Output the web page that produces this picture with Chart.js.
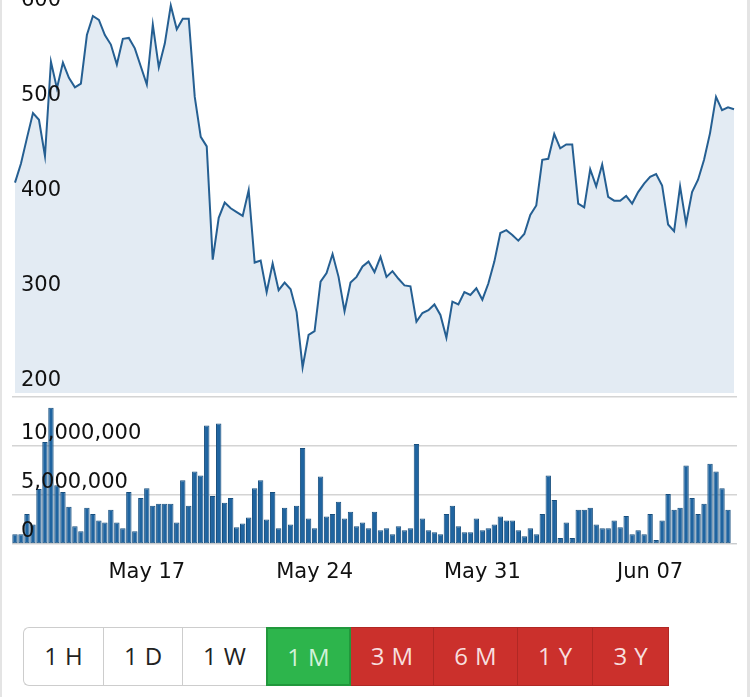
<!DOCTYPE html>
<html>
<head>
<meta charset="utf-8">
<script src="https://cdn.jsdelivr.net/npm/chart.js@4.4.1/dist/chart.umd.min.js"></script>
<style>
  body { margin: 0; width: 750px; height: 697px; background: #fff; overflow: hidden; position: relative; }
  .edge { position: absolute; top: 0; height: 697px; background: #e4e4e4; }
  #priceBox { position: absolute; left: 0; top: 0; width: 750px; height: 395px; }
  #volumeBox { position: absolute; left: 0; top: 395px; width: 750px; height: 190px; }
  .ranges { position: absolute; left: 23px; top: 627px; height: 59px; display: flex; font-family: "Open Sans", sans-serif; font-size: 24px; }
  .ranges div { box-sizing: border-box; height: 59px; line-height: 55px; text-align: center; letter-spacing: 7px; text-indent: 7px; }
  .ranges .w { background: #fff; color: #222; border: 1.5px solid #cdcdcd; border-right: none; }
  .ranges .w:first-child { border-radius: 6px 0 0 6px; }
  .ranges .g { background: #2db54c; color: #d2f2d9; border: 2px solid #21983c; }
  .ranges .r { background: #cb302c; color: #f7dede; border: 1px solid #b02824; border-left: none; }
</style>
</head>
<body>
<div class="edge" style="left:0;width:2px"></div>
<div class="edge" style="left:747px;width:3px"></div>
<div id="priceBox"><canvas id="prix"></canvas></div>
<div id="volumeBox"><canvas id="volume"></canvas></div>
<div class="ranges">
  <div class="w" style="width:80px">1H</div>
  <div class="w" style="width:79px">1D</div>
  <div class="w" style="width:84px">1W</div>
  <div class="g" style="width:85px">1M</div>
  <div class="r" style="width:83px">3M</div>
  <div class="r" style="width:84px">6M</div>
  <div class="r" style="width:75px">1Y</div>
  <div class="r" style="width:76px">3Y</div>
</div>
<script>
// donnees (un point toutes les 6 heures)
const prices = [421, 441, 468, 494, 487, 449, 548, 520, 547, 531, 521, 525, 576, 596, 592, 576,
  566, 545, 572, 573, 562, 543, 524, 587, 542, 567, 607, 582, 593, 593, 511, 469,
  459, 340, 384, 400, 394, 390, 386, 413, 337, 339, 306, 336, 308, 316, 309, 285,
  227, 261, 265, 317, 326, 346, 322, 286, 316, 322, 333, 338, 327, 343, 322, 328,
  320, 313, 312, 275, 284, 287, 293, 282, 258, 296, 293, 306, 303, 310, 298, 315,
  338, 368, 371, 366, 360, 367, 387, 397, 445, 446, 472, 457, 461, 461, 399, 395,
  435, 417, 440, 406, 402, 402, 407, 399, 411, 420, 427, 430, 418, 377, 370, 417,
  378, 411, 424, 445, 473, 511, 497, 500, 498];

// volumes en millions
const volumeMillions = [1.0, 1.0, 3.05, 2.0, 5.6, 10.4, 13.9, 6.0, 5.3, 3.8, 1.8, 1.3, 3.7, 3.05, 2.4, 2.2,
  3.5, 2.2, 1.6, 5.3, 1.3, 4.7, 5.7, 3.9, 4.1, 4.1, 4.1, 2.2, 6.5, 3.9, 7.4, 7.0,
  12.1, 4.9, 12.3, 4.2, 4.7, 1.7, 2.1, 2.7, 5.7, 6.5, 2.5, 5.3, 1.6, 3.7, 2.0, 3.9,
  9.8, 2.6, 1.6, 6.9, 2.8, 3.05, 4.3, 2.6, 3.3, 1.8, 2.2, 1.6, 3.3, 1.4, 1.6, 1.0,
  1.8, 1.4, 1.6, 10.2, 2.6, 1.4, 1.2, 1.0, 3.05, 3.9, 1.8, 1.2, 1.2, 2.6, 1.4, 1.6,
  2.0, 2.8, 2.4, 2.4, 1.4, 0.8, 1.6, 1.0, 3.05, 7.0, 4.5, 0.6, 2.2, 0.6, 3.5, 3.5,
  3.7, 2.0, 1.6, 1.6, 2.4, 1.7, 2.85, 1.0, 1.4, 1.0, 3.05, 0.4, 2.4, 5.1, 3.5, 3.7,
  8.0, 4.7, 3.05, 4.1, 8.2, 7.4, 5.7, 3.5, 0.1];

const priceTicks = [200, 300, 400, 500, 600];
const volumeTicks = [0, 5000000, 10000000, 15000000];
const xTickLabels = ['May 17', 'May 24', 'May 31', 'Jun 07'];

const months = ['Jan', 'Feb', 'Mar', 'Apr', 'May', 'Jun', 'Jul', 'Aug', 'Sep', 'Oct', 'Nov', 'Dec'];
const debut = Date.UTC(2021, 4, 11, 12);
const labels = prices.map((p, i) => {
  const d = new Date(debut + i * 6 * 3600 * 1000);
  const jour = String(d.getUTCDate()).padStart(2, '0');
  const heure = String(d.getUTCHours()).padStart(2, '0');
  return months[d.getUTCMonth()] + ' ' + jour + ' ' + heure + ':00';
});
const volumes = volumeMillions.map(v => v * 1000000);

const police = { family: '"DejaVu Sans", Verdana, sans-serif', size: 21 };

// les axes y sont dans le graphique : pas de largeur ni de marge
function axeInterieur(axis) {
  axis.width = 0;
  axis.paddingTop = 0;
  axis.paddingBottom = 0;
  axis.paddingLeft = 0;
  axis.paddingRight = 0;
}

new Chart(document.getElementById('prix'), {
  type: 'line',
  data: {
    labels: labels,
    datasets: [{
      data: prices,
      borderColor: '#255f92',
      borderWidth: 2,
      backgroundColor: '#e3ebf3',
      fill: 'start',
      pointRadius: 0,
      tension: 0
    }]
  },
  options: {
    responsive: true,
    maintainAspectRatio: false,
    animation: false,
    layout: { padding: { left: 12, right: 13, top: 0, bottom: 2 } },
    plugins: { legend: { display: false }, tooltip: { enabled: false } },
    scales: {
      x: { display: false, offset: true },
      y: {
        min: 200,
        max: 612.8,
        afterBuildTicks: axis => { axis.ticks = priceTicks.map(v => ({ value: v })); },
        afterFit: axeInterieur,
        grid: { display: false, drawTicks: false },
        border: { display: false },
        ticks: { z: 1, mirror: true, padding: 9, labelOffset: -12, color: '#111', font: police }
      }
    }
  }
});

new Chart(document.getElementById('volume'), {
  type: 'bar',
  data: {
    labels: labels,
    datasets: [{
      data: volumes,
      backgroundColor: '#1f64a0',
      borderColor: '#184f7e',
      borderWidth: 1,
      borderSkipped: false,
      barPercentage: 0.9,
      categoryPercentage: 1
    }]
  },
  options: {
    responsive: true,
    maintainAspectRatio: false,
    animation: false,
    layout: { padding: { left: 12, right: 13, top: 2, bottom: 0 } },
    plugins: { legend: { display: false }, tooltip: { enabled: false } },
    scales: {
      x: {
        offset: true,
        afterFit: axis => { axis.height = 41; axis.paddingLeft = 0; axis.paddingRight = 0; },
        grid: { display: false, drawTicks: false },
        border: { display: false },
        ticks: {
          autoSkip: false,
          maxRotation: 0,
          padding: 16,
          color: '#111',
          font: police,
          callback: function (value) {
            const lbl = this.getLabelForValue(value);
            const jour = lbl.slice(0, 6);
            if (lbl.endsWith('00:00') && xTickLabels.includes(jour)) return jour;
            return '';
          }
        }
      },
      y: {
        min: 0,
        max: 15000000,
        afterBuildTicks: axis => { axis.ticks = volumeTicks.map(v => ({ value: v })); },
        afterFit: axeInterieur,
        grid: { color: '#d4d4d4', lineWidth: 1.5, drawTicks: false },
        border: { display: false },
        ticks: {
          z: 1, mirror: true, padding: 9, labelOffset: -12, color: '#111', font: police,
          callback: v => v >= 15000000 ? '' : v.toLocaleString('en-US')
        }
      }
    }
  }
});
</script>
</body>
</html>
